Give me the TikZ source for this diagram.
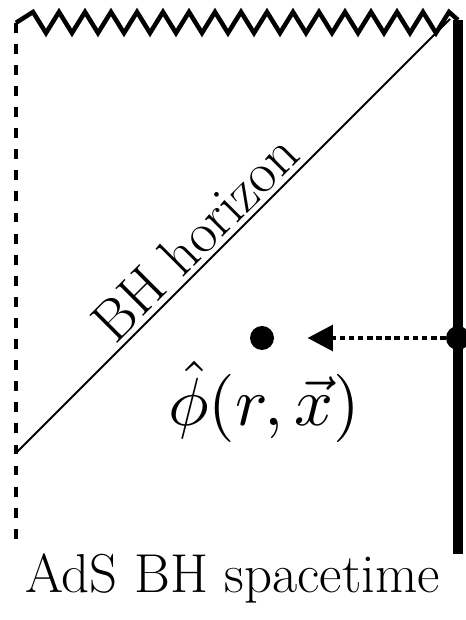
\documentclass[tikz,border=0pt]{standalone}
\usetikzlibrary{arrows.meta}

\begin{document}
\begin{tikzpicture}[
  wall/.style={line width=7.5pt},
  cutoff/.style={line width=3.5pt, dash pattern=on 7pt off 8pt},
  horizon/.style={line width=1.3pt},
  sing/.style={line width=3.2pt, line join=miter},
  bdot/.style={circle, fill=black, inner sep=0pt, minimum size=#1},
  bdot/.default=0.6cm,
  probe/.style={-{Triangle[length=18pt,width=18pt]}, line width=3.2pt,
    dash pattern=on 4pt off 2.5pt, shorten >=0.83cm},
]
\useasboundingbox (0,0) rectangle (11.625,15.5);

% Corners of the diagram
\coordinate (tl) at (0.4, 14.93);
\coordinate (bl) at (0.4, 1.875);
\coordinate (tr) at (11.45, 15.0);
\coordinate (br) at (11.45, 1.65);
\coordinate (hl) at (0.4, 4.175);
\coordinate (htop) at (11.25, 15.025);

% Boundary, cutoff and singularity
\draw[wall] (br) -- (tr);
\draw[cutoff] (tl) -- (bl);
\draw[sing] (tl) -- (0.825,15.2)
  \foreach \k in {1,...,16} { -- ++(0.325,-0.525) -- ++(0.325,0.525) } -- (tr);

% Horizon
\draw[horizon] (hl) -- node[sloped, above, pos=0.454, font=\fontsize{41}{48}\selectfont] (hlabel) {BH horizon} (htop);

% Bulk point and boundary source
\node[bdot] (bulk) at (6.55, 7.05) {};
\node[bdot] (src) at (11.45, 7.05) {};
\draw[probe] (src) -- (bulk);
\node[anchor=base, scale=4.85, inner sep=0pt] (field) at (6.6, 4.85) {$\hat\phi(r,\vec{x})$};

% Caption
\node[anchor=base, font=\fontsize{39}{46}\selectfont] (caption) at (5.81, 0.675) {AdS BH spacetime};

\end{tikzpicture}
\end{document}
